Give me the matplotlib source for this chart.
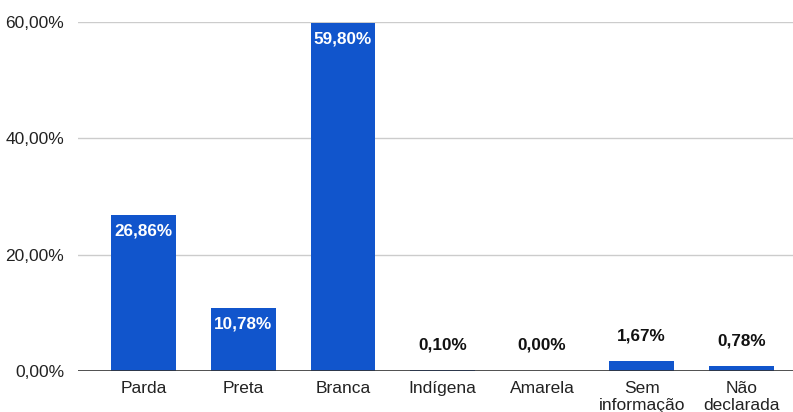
import matplotlib.pyplot as plt
from matplotlib.ticker import FuncFormatter

plt.rcParams['font.family'] = ['Liberation Sans', 'DejaVu Sans']

categorias = ['Parda', 'Preta', 'Branca', 'Indígena', 'Amarela',
              'Sem\ninformação', 'Não\ndeclarada']
percentuais = [26.86, 10.78, 59.80, 0.10, 0.00, 1.67, 0.78]
y_ticks = [0, 20, 40, 60]

cor_barra = '#1155cc'


def fmt_pct(v):
    return f'{v:.2f}%'.replace('.', ',')


fig = plt.figure(figsize=(7.93, 4.12), dpi=100)
ax = fig.add_axes([0.0984, 0.0995, 0.9016, 0.8471])

x = range(len(categorias))
bars = ax.bar(x, percentuais, width=0.65, color=cor_barra, zorder=3)

# rótulos: dentro da barra quando cabe, acima quando é pequena
for b, v in zip(bars, percentuais):
    cx = b.get_x() + b.get_width() / 2
    if v > 5:
        ax.annotate(fmt_pct(v), (cx, v), xytext=(0, -6), textcoords='offset points',
                    ha='center', va='top', color='white', fontsize=12.3,
                    fontweight='bold', zorder=4)
    else:
        ax.annotate(fmt_pct(v), (cx, v), xytext=(0, 13), textcoords='offset points',
                    ha='center', va='bottom', color='#111111', fontsize=12.3,
                    fontweight='bold', zorder=4)

ax.set_xlim(-0.66, 6.52)
ax.set_ylim(0, 60)
ax.set_yticks(y_ticks)
ax.yaxis.set_major_formatter(FuncFormatter(lambda v, p: fmt_pct(v)))
ax.set_xticks(list(x))
ax.set_xticklabels(categorias, linespacing=1.15)

ax.grid(axis='y', color='#cccccc', linewidth=1, zorder=0)
ax.axhline(0, color='#333333', linewidth=1.2, zorder=5)
for s in ax.spines.values():
    s.set_visible(False)
ax.tick_params(axis='both', length=0, labelsize=12.5, colors='#222222')
ax.tick_params(axis='x', pad=7)
ax.tick_params(axis='y', pad=10)

fig.savefig('out.png', dpi=100)
